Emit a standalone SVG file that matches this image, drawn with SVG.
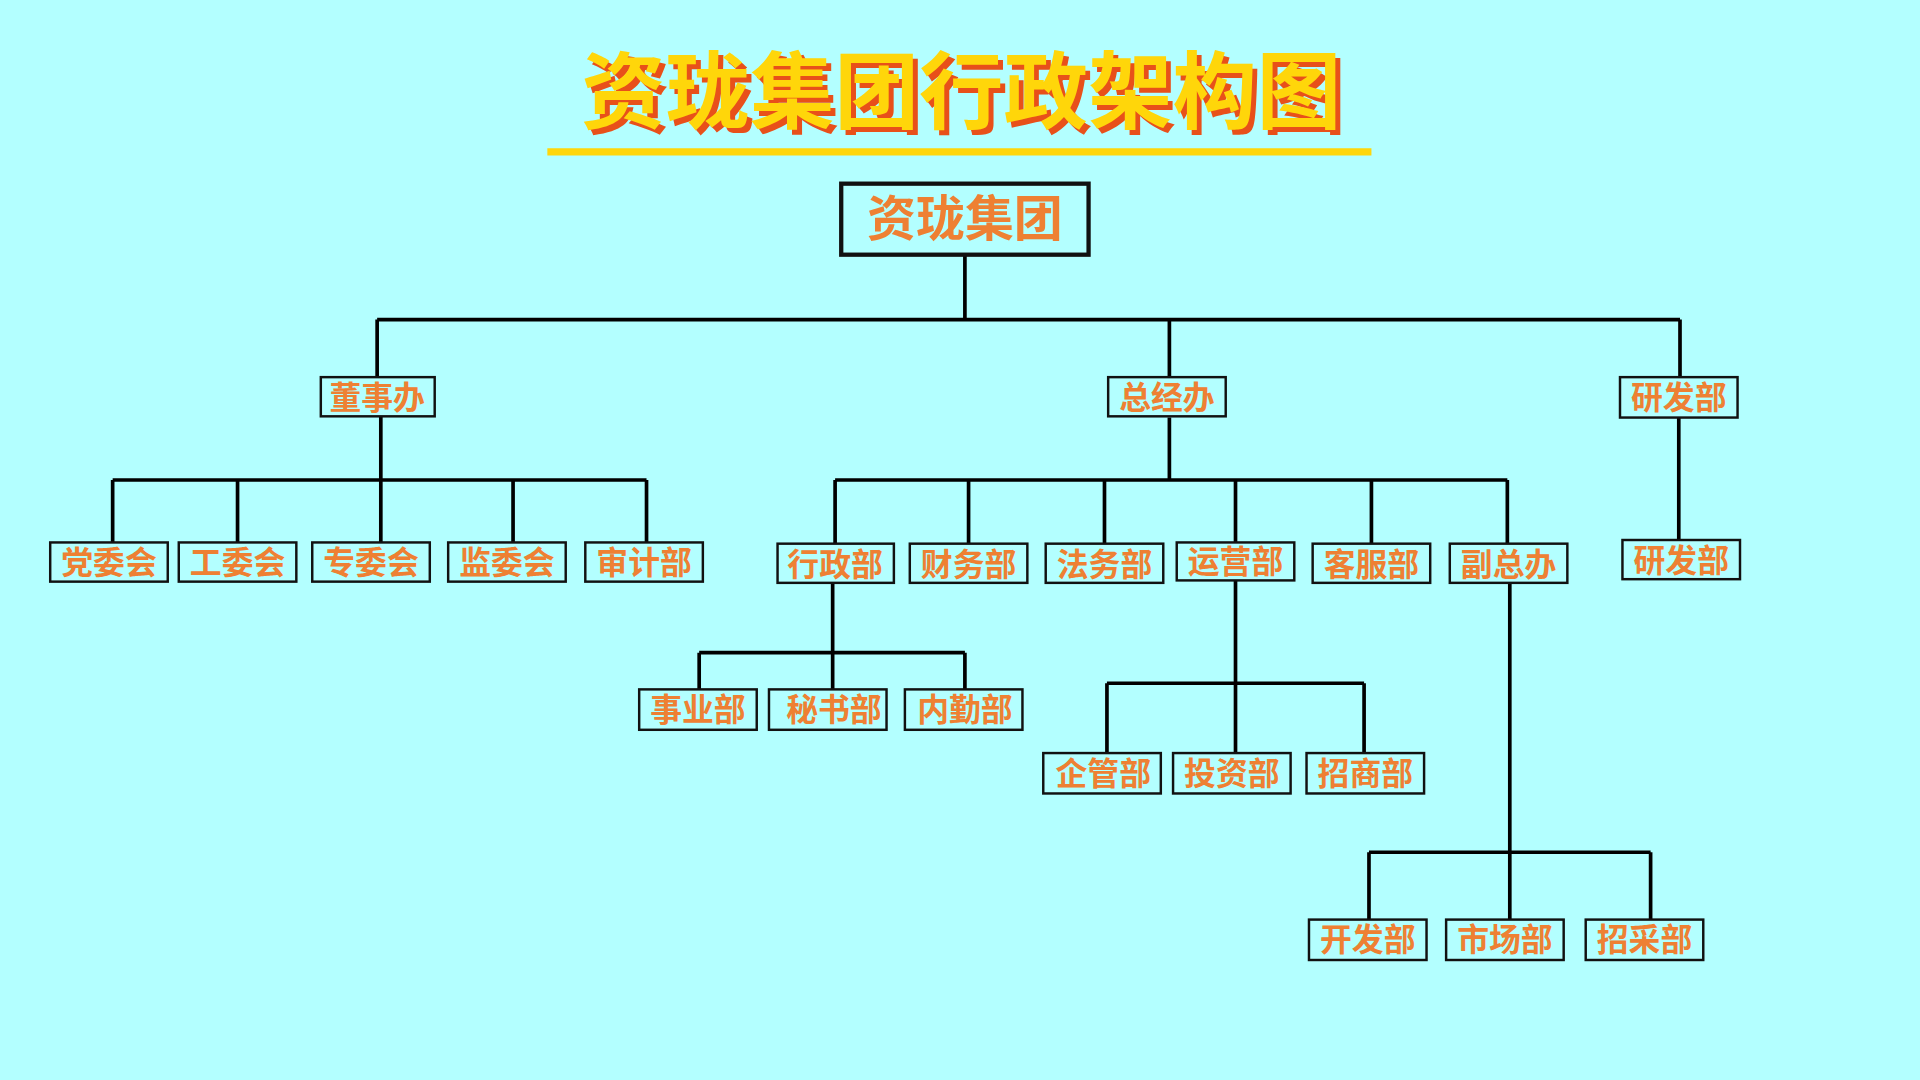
<svg xmlns="http://www.w3.org/2000/svg" width="1920" height="1080" viewBox="0 0 1920 1080">
<style>
.b{fill:#B3FFFF;stroke:#111;stroke-width:2}
.t{font-family:"Noto Sans CJK SC","Noto Sans",sans-serif;font-weight:bold;font-size:26px;fill:#EE8033;text-anchor:middle}
.c{fill:none;stroke:#000;stroke-width:3}
.ti{font-family:"Noto Sans CJK SC",sans-serif;font-weight:bold;font-size:69px;text-anchor:middle}
</style>
<rect width="1920" height="1080" fill="#B3FFFF"/>
<g transform="scale(1.22449)">
<g id="title">
<text class="ti" x="789" y="104" fill="#E8501A">资珑集团行政架构图</text>
<text class="ti" x="785" y="100" fill="#FFD60A">资珑集团行政架构图</text>
<line x1="447" y1="124" x2="1120" y2="124" stroke="#FFD60A" stroke-width="6"/>
</g>
<g id="connectors">
<path class="c" d="M788 208V261M308 261H1372M308 261V308M955 261V308M1372 261V308"/>
<path class="c" d="M311 340V392M92 392H528M92 392V443M194 392V443M311 392V443M419 392V443M528 392V443"/>
<path class="c" d="M955 341V392M682 392H1231M682 392V444M791 392V444M902 392V444M1009 392V443M1120 392V444M1231 392V444"/>
<path class="c" d="M1371 341V441"/>
<path class="c" d="M680 476V533M571 533H788M571 533V563M680 533V563M788 533V563"/>
<path class="c" d="M1009 474V558M904 558H1114M904 558V615M1009 558V615M1114 558V615"/>
<path class="c" d="M1233 476V696M1118 696H1348M1118 696V751M1233 696V751M1348 696V751"/>
</g>
<g id="root"><rect class="b" x="687" y="150" width="202" height="58" style="stroke-width:3.5"/><text class="t" x="788" y="193" style="font-size:40px">资珑集团</text></g>
<g id="n1"><rect class="b" x="262" y="308" width="93" height="32"/><text class="t" x="308" y="334">董事办</text></g>
<g id="n2"><rect class="b" x="905" y="308" width="96" height="32"/><text class="t" x="953" y="334">总经办</text></g>
<g id="n3"><rect class="b" x="1323" y="308" width="96" height="33"/><text class="t" x="1371" y="334">研发部</text></g>
<g id="n4"><rect class="b" x="41" y="443" width="96" height="32"/><text class="t" x="89" y="469">党委会</text></g>
<g id="n5"><rect class="b" x="146" y="443" width="96" height="32"/><text class="t" x="194" y="469">工委会</text></g>
<g id="n6"><rect class="b" x="255" y="443" width="96" height="32"/><text class="t" x="303" y="469">专委会</text></g>
<g id="n7"><rect class="b" x="366" y="443" width="96" height="32"/><text class="t" x="414" y="469">监委会</text></g>
<g id="n8"><rect class="b" x="478" y="443" width="96" height="32"/><text class="t" x="526" y="469">审计部</text></g>
<g id="n9"><rect class="b" x="635" y="444" width="95" height="32"/><text class="t" x="682" y="470">行政部</text></g>
<g id="n10"><rect class="b" x="743" y="444" width="96" height="32"/><text class="t" x="791" y="470">财务部</text></g>
<g id="n11"><rect class="b" x="854" y="444" width="96" height="32"/><text class="t" x="902" y="470">法务部</text></g>
<g id="n12"><rect class="b" x="961" y="443" width="96" height="31"/><text class="t" x="1009" y="468">运营部</text></g>
<g id="n13"><rect class="b" x="1072" y="444" width="96" height="32"/><text class="t" x="1120" y="470">客服部</text></g>
<g id="n14"><rect class="b" x="1184" y="444" width="96" height="32"/><text class="t" x="1232" y="470">副总办</text></g>
<g id="n15"><rect class="b" x="1325" y="441" width="96" height="32"/><text class="t" x="1373" y="467">研发部</text></g>
<g id="n16"><rect class="b" x="522" y="563" width="96" height="33"/><text class="t" x="570" y="589">事业部</text></g>
<g id="n17"><rect class="b" x="628" y="563" width="96" height="33"/><text class="t" x="681" y="589">秘书部</text></g>
<g id="n18"><rect class="b" x="739" y="563" width="96" height="33"/><text class="t" x="788" y="589">内勤部</text></g>
<g id="n19"><rect class="b" x="852" y="615" width="96" height="33"/><text class="t" x="901" y="641">企管部</text></g>
<g id="n20"><rect class="b" x="958" y="615" width="96" height="33"/><text class="t" x="1006" y="641">投资部</text></g>
<g id="n21"><rect class="b" x="1067" y="615" width="96" height="33"/><text class="t" x="1115" y="641">招商部</text></g>
<g id="n22"><rect class="b" x="1069" y="751" width="96" height="33"/><text class="t" x="1117" y="777">开发部</text></g>
<g id="n23"><rect class="b" x="1181" y="751" width="96" height="33"/><text class="t" x="1229" y="777">市场部</text></g>
<g id="n24"><rect class="b" x="1295" y="751" width="96" height="33"/><text class="t" x="1343" y="777">招采部</text></g>
</g>
</svg>
